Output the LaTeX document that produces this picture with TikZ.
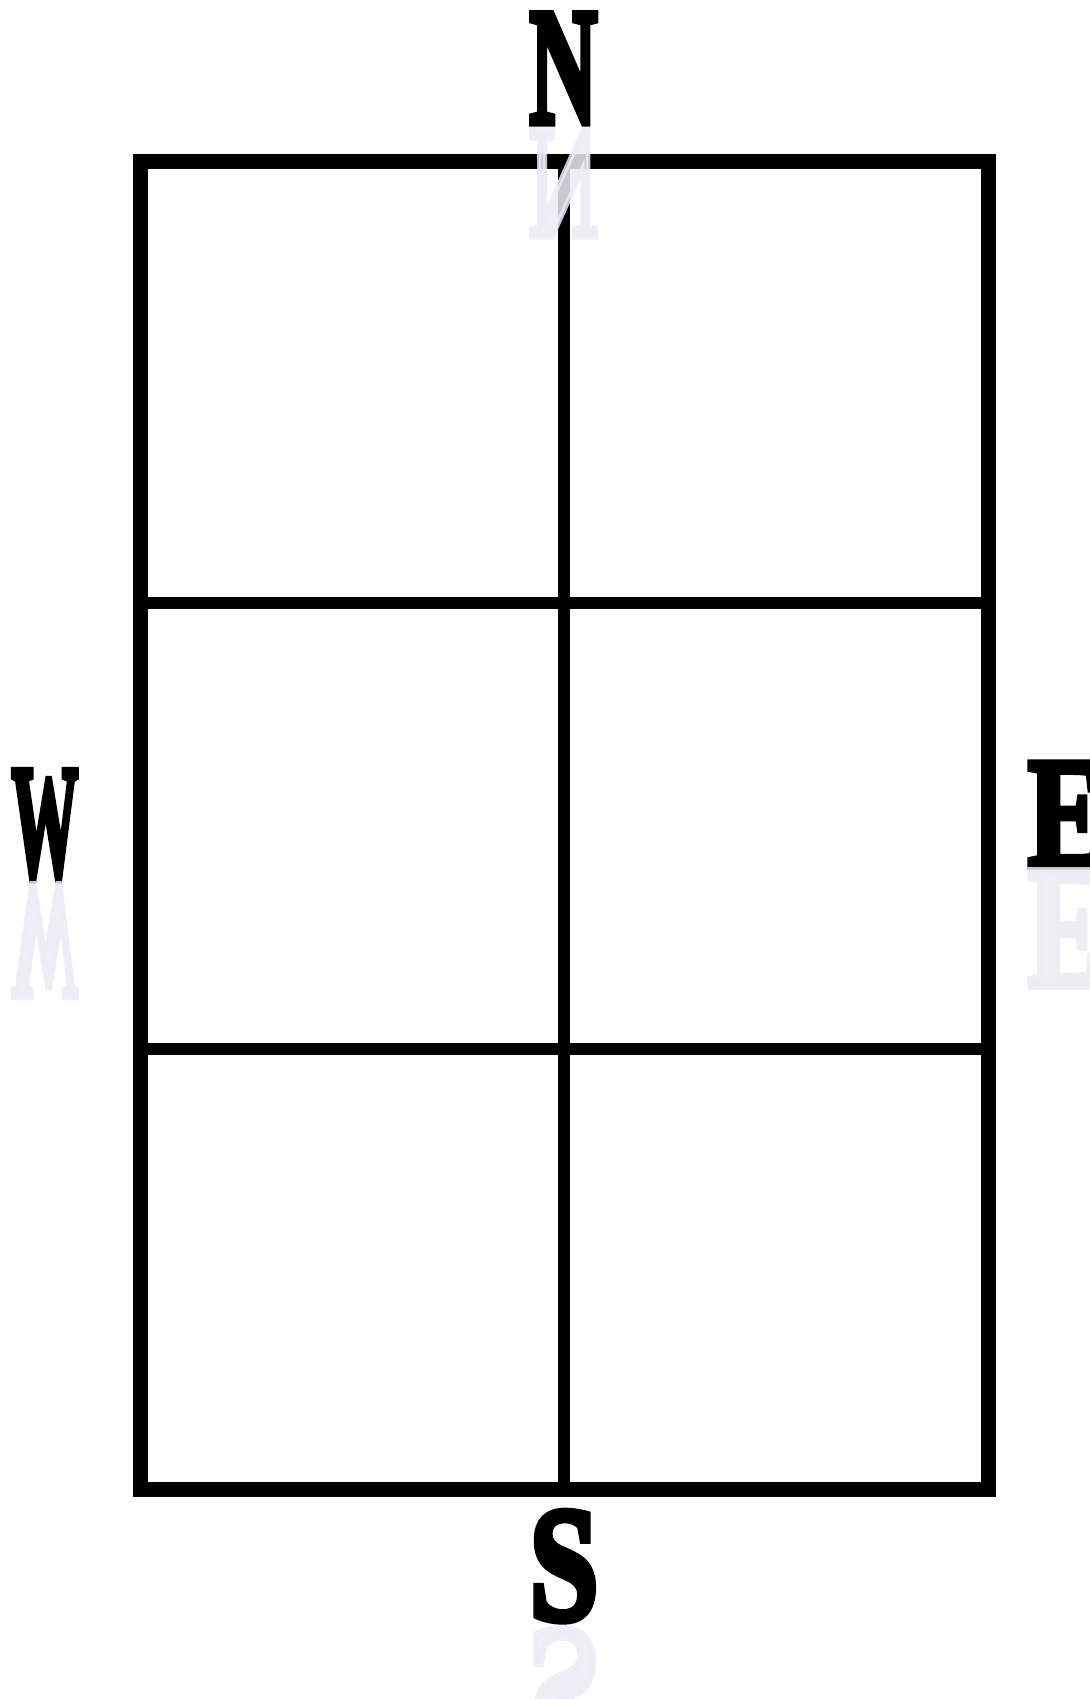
\documentclass[tikz,border=0pt]{standalone}
\usepackage{fontspec}
\setmainfont{Liberation Serif}
\newfontfamily\dirfont{Liberation Serif}[UprightFont=* Bold, FakeBold=4.5]
\usepackage{graphicx}
\definecolor{reflgray}{RGB}{236,236,243}
\newcommand{\dirletter}[3]{\resizebox{#2pt}{#3pt}{\dirfont #1}}
\begin{document}
\begin{tikzpicture}[x=1pt,y=1pt,
  outerline/.style={line width=15pt},
  innerline/.style={line width=12pt},
  letter/.style={inner sep=0pt,outer sep=0pt,anchor=south,text=black},
  reflect/.style={inner sep=0pt,outer sep=0pt,anchor=north,text=reflgray,opacity=0.85}]
\useasboundingbox (0,0) rectangle (1089,1699);
\fill[white] (0,0) rectangle (1089,1699);
% grid
\coordinate (tl) at (140,1537.5);
\coordinate (br) at (988,209);
\coordinate (mt) at (563.5,1537.5);
\coordinate (mb) at (563.5,209);
\coordinate (h1l) at (140,1096);
\coordinate (h1r) at (988,1096);
\coordinate (h2l) at (140,650);
\coordinate (h2r) at (988,650);
\draw[innerline] (mt) -- (mb);
\draw[innerline] (h1l) -- (h1r);
\draw[innerline] (h2l) -- (h2r);
\draw[outerline] (tl) rectangle (br);
% letters
\node[letter] (N) at (563.5,1576) {\dirletter{N}{68}{109}};
\node[letter] (W) at (45,819) {\dirletter{W}{67}{107}};
\node[letter] (E) at (1067,833) {\dirletter{E}{78}{103}};
\node[letter] (S) at (564,78) {\dirletter{S}{69}{108}};
% reflections
\node[reflect] (Nr) at (563.5,1568) {\scalebox{1}[-1]{\dirletter{N}{68}{105}}};
\node[reflect] (Wr) at (45,814) {\scalebox{1}[-1]{\dirletter{W}{67}{109}}};
\node[reflect] (Er) at (1067,828) {\scalebox{1}[-1]{\dirletter{E}{78}{115}}};
\node[reflect] (Sr) at (564,70) {\scalebox{1}[-1]{\dirletter{S}{69}{108}}};
\end{tikzpicture}
\end{document}
